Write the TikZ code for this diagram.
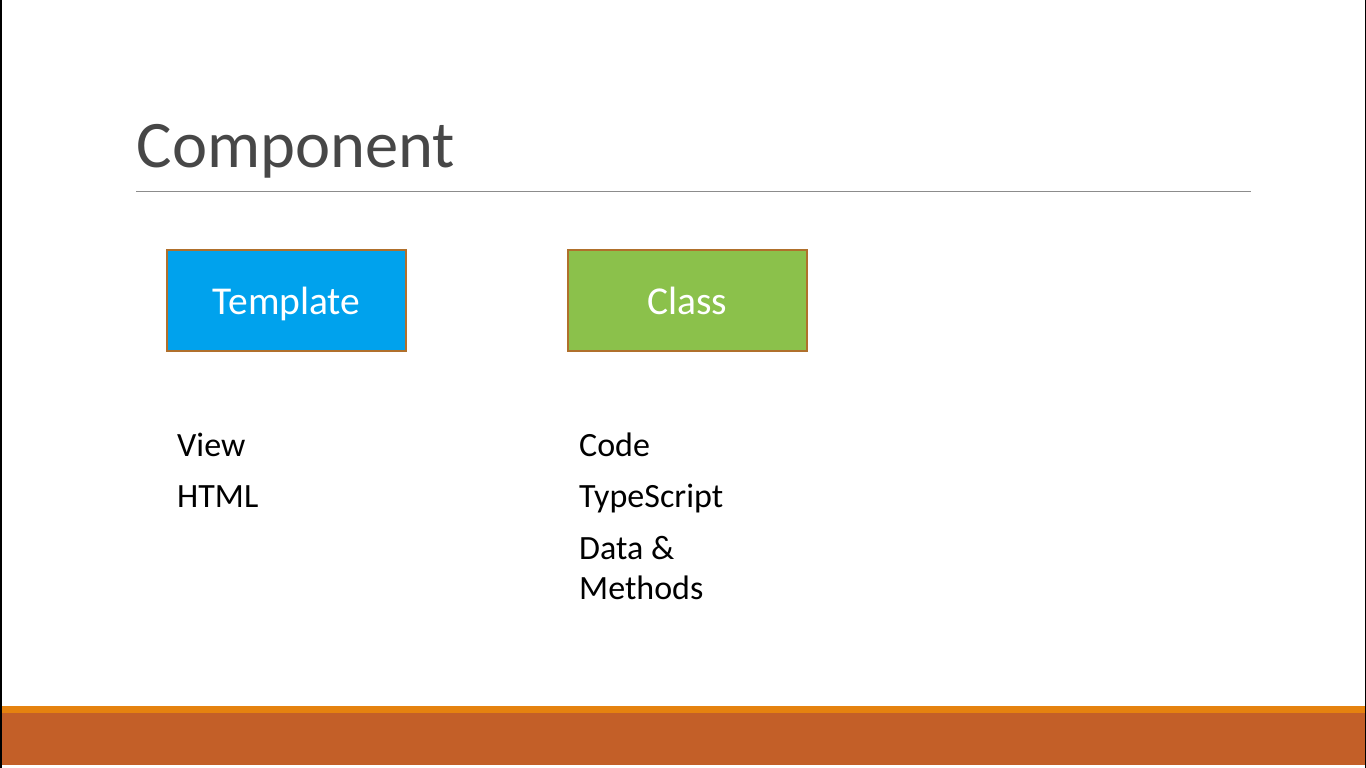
\documentclass[tikz,border=0pt]{standalone}
\usepackage{fontspec}
\setmainfont{Carlito}
\definecolor{titlegray}{HTML}{474747}
\definecolor{rulegray}{HTML}{8C8C8C}
\definecolor{tplblue}{HTML}{00A2ED}
\definecolor{clsgreen}{HTML}{8BC14B}
\definecolor{boxedge}{HTML}{B0702C}
\definecolor{barlight}{HTML}{E5820F}
\definecolor{bardark}{HTML}{C35F28}
\tikzset{
  card/.style={draw=boxedge, line width=1.5pt, minimum width=239pt, minimum height=101pt,
    inner sep=0pt, text=white, font=\fontsize{39.5}{42}\selectfont,
    text height=28pt, text depth=0pt},
  bodytext/.style={anchor=base west, inner sep=0pt, text=black,
    font=\fontsize{34}{40}\selectfont}
}
\begin{document}
\begin{tikzpicture}[x=1pt, y=-1pt]
  \useasboundingbox (0,0) rectangle (1366,768);
  \fill[white] (0,0) rectangle (1366,768);
  % side edges
  \fill[black] (0,0) rectangle (2,768);
  \fill[black] (1365,0) rectangle (1366,768);
  % footer bands
  \fill[barlight] (2,706) rectangle (1365,713);
  \fill[bardark] (2,713) rectangle (1365,765);
  % title and rule
  \node[anchor=base west, inner sep=0pt, text=titlegray,
        font=\fontsize{66.5}{72}\selectfont] (title) at (136.5,167) {Component};
  \coordinate (ruleL) at (136,191);
  \coordinate (ruleR) at (1251,191);
  \draw[rulegray, line width=1pt] (ruleL) -- (ruleR);
  % the two parts
  \node[card, fill=tplblue] (template) at (286.5,300.5) {Template};
  \node[card, fill=clsgreen] (class) at (687.5,300.5) {Class};
  % descriptions
  \node[bodytext] (view) at (177,456) {View};
  \node[bodytext] (html) at (177,507) {HTML};
  \node[bodytext] (code) at (579,456) {Code};
  \node[bodytext] (ts) at (579,507) {TypeScript};
  \node[bodytext] (data) at (579,559) {Data \&};
  \node[bodytext] (methods) at (579,599) {Methods};
\end{tikzpicture}
\end{document}
